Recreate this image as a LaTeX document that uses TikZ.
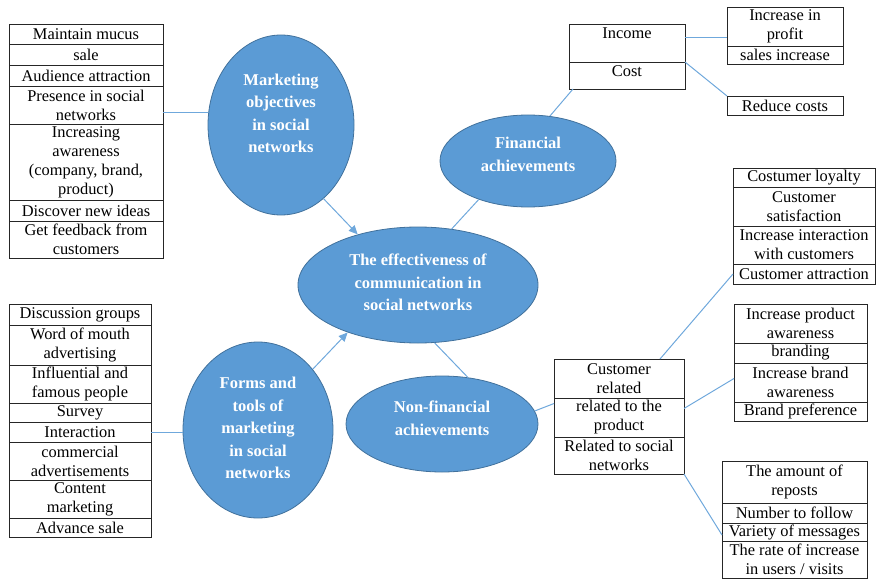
\documentclass[tikz,border=0pt]{standalone}
\usepackage{fontspec}
\setmainfont{Liberation Serif}
\usetikzlibrary{arrows.meta,shapes.geometric}
\definecolor{ellfill}{HTML}{5B9BD5}
\definecolor{ellline}{HTML}{41719C}
\definecolor{conn}{HTML}{6FA8DC}
\tikzset{
  cell/.style={draw=black!85, line width=0.9pt, rectangle, inner sep=0pt, outer sep=0pt,
    anchor=north west, align=center, font=\fontsize{16.4}{19}\selectfont},
  blob/.style={ellipse, fill=ellfill, draw=ellline, line width=0.8pt, inner sep=0pt},
  blobtext/.style={align=center, text=white, inner sep=0pt,
    font=\fontsize{16.5}{22.5}\selectfont\bfseries},
  link/.style={draw=conn, line width=1pt},
  arrowlink/.style={draw=conn, line width=1pt, -{Triangle[length=9pt,width=8pt]}}
}
\begin{document}
\begin{tikzpicture}[x=1pt,y=-1pt]
\useasboundingbox (0,0) rectangle (880,580);
% left top list
\node[cell, minimum width=154pt, minimum height=20pt] (lt1) at (9,24) {Maintain mucus};
\node[cell, minimum width=154pt, minimum height=21pt] (lt2) at (9,44) {sale};
\node[cell, minimum width=154pt, minimum height=21pt] (lt3) at (9,65) {Audience attraction};
\node[cell, minimum width=154pt, minimum height=38pt] (lt4) at (9,86) {Presence in social\\networks};
\node[cell, minimum width=154pt, minimum height=76pt] (lt5) at (9,124) {Increasing\\awareness\\(company, brand,\\product)};
\node[cell, minimum width=154pt, minimum height=21pt] (lt6) at (9,200) {Discover new ideas};
\node[cell, minimum width=154pt, minimum height=37pt] (lt7) at (9,221) {Get feedback from\\customers};
% left bottom list
\node[cell, minimum width=142pt, minimum height=21pt] (lb1) at (9,304) {Discussion groups};
\node[cell, minimum width=142pt, minimum height=40pt] (lb2) at (9,325) {Word of mouth\\advertising};
\node[cell, minimum width=142pt, minimum height=38pt] (lb3) at (9,365) {Influential and\\famous people};
\node[cell, minimum width=142pt, minimum height=19pt] (lb4) at (9,403) {Survey};
\node[cell, minimum width=142pt, minimum height=20pt] (lb5) at (9,422) {Interaction};
\node[cell, minimum width=142pt, minimum height=38pt] (lb6) at (9,442) {commercial\\advertisements};
\node[cell, minimum width=142pt, minimum height=38pt] (lb7) at (9,480) {Content\\marketing};
\node[cell, minimum width=142pt, minimum height=19pt] (lb8) at (9,518) {Advance sale};
% income / cost
\node[cell, minimum width=116pt, minimum height=38pt] (inc) at (569,24) {Income\\~};
\node[cell, minimum width=116pt, minimum height=27pt] (cost) at (569,62) {Cost\\[-11pt]~};
\node[cell, minimum width=116pt, minimum height=39pt] (pr1) at (727,7) {Increase in\\profit};
\node[cell, minimum width=116pt, minimum height=18pt] (pr2) at (727,46) {sales increase};
\node[cell, minimum width=116pt, minimum height=19pt] (red) at (727,96) {Reduce costs};
% customer related box
\node[cell, minimum width=142pt, minimum height=19pt] (c1) at (733,168) {Costumer loyalty};
\node[cell, minimum width=142pt, minimum height=39pt] (c2) at (733,187) {Customer\\satisfaction};
\node[cell, minimum width=142pt, minimum height=38pt] (c3) at (733,226) {Increase interaction\\with customers};
\node[cell, minimum width=142pt, minimum height=20pt] (c4) at (733,264) {Customer attraction};
% product box
\node[cell, minimum width=133pt, minimum height=39pt] (p1) at (734,304) {Increase product\\awareness};
\node[cell, minimum width=133pt, minimum height=20pt] (p2) at (734,343) {branding};
\node[cell, minimum width=133pt, minimum height=39pt] (p3) at (734,363) {Increase brand\\awareness};
\node[cell, minimum width=133pt, minimum height=19pt] (p4) at (734,402) {Brand preference};
% social box
\node[cell, minimum width=145pt, minimum height=42pt] (s1) at (722,461) {The amount of\\reposts};
\node[cell, minimum width=145pt, minimum height=20pt] (s2) at (722,503) {Number to follow};
\node[cell, minimum width=145pt, minimum height=18pt] (s3) at (722,523) {Variety of messages};
\node[cell, minimum width=145pt, minimum height=37pt] (s4) at (722,541) {The rate of increase\\in users / visits};
% middle categories box
\node[cell, minimum width=130pt, minimum height=39pt] (cr1) at (554,359) {Customer\\related};
\node[cell, minimum width=130pt, minimum height=39pt] (cr2) at (554,398) {related to the\\product};
\node[cell, minimum width=130pt, minimum height=37pt] (cr3) at (554,437) {Related to social\\networks};
% ellipses
\node[blob, minimum width=146pt, minimum height=180pt] (mo) at (281,125) {};
\node[blobtext] (mot) at (281,113.5) {Marketing\\objectives\\in social\\networks};
\node[blob, minimum width=176pt, minimum height=92pt] (fin) at (528,161) {};
\node[blobtext] (fint) at (528,154.5) {Financial\\achievements};
\node[blob, minimum width=240pt, minimum height=116pt] (ce) at (418,285) {};
\node[blobtext] (cet) at (418,282.5) {The effectiveness of\\communication in\\social networks};
\node[blob, minimum width=150pt, minimum height=176pt] (fo) at (258,430) {};
\node[blobtext] (fot) at (258,428) {Forms and\\tools of\\marketing\\in social\\networks};
\node[blob, minimum width=192pt, minimum height=96pt] (nf) at (442,424) {};
\node[blobtext] (nft) at (442,418.5) {Non-financial\\achievements};
% connectors
\draw[link] ([yshift=-8pt]lt4.east) -- ([yshift=-8pt]lt4.east -| mo.west);
\draw[link] (lb5.east) -- (lb5.east -| fo.west);
\draw[arrowlink] (mo.-60) -- (ce.140);
\draw[arrowlink] (fo.48) -- (ce.214);
\draw[link] (fin.218) -- (ce.59);
\draw[link] (fin.64) -- ([xshift=4pt]cost.south west);
\draw[link] ([yshift=5pt]inc.east) -- ([yshift=5pt]inc.east -| pr1.west);
\draw[link] (cost.north east) -- (red.north west);
\draw[link] (ce.-74) -- (nf.61);
\draw[link] (nf.8) -- ([yshift=14pt]cr2.west);
\draw[link] ([xshift=-24pt]cr1.north east) -- (c4.west);
\draw[link] ([yshift=9pt]cr2.east) -- ([yshift=4pt]p3.west);
\draw[link] (cr3.south east) -- ([yshift=-3pt]s3.west);
\end{tikzpicture}
\end{document}
